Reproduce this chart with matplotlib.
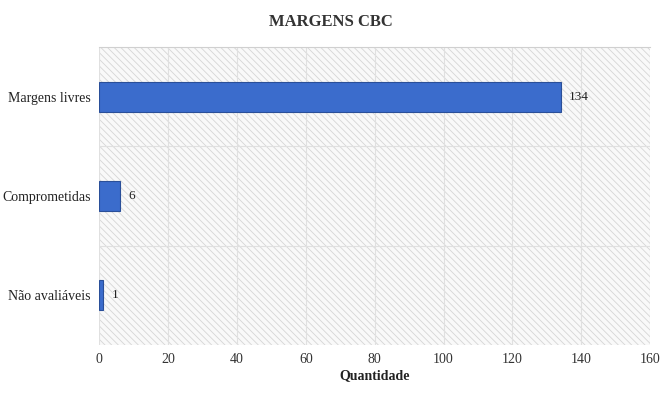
import matplotlib.pyplot as plt
from matplotlib.patches import Rectangle
from matplotlib.ticker import MultipleLocator

plt.rcParams['font.family'] = ['Liberation Serif', 'DejaVu Serif']
plt.rcParams['hatch.linewidth'] = 0.6

categorias = ['Margens livres', 'Comprometidas', 'Não avaliáveis']
quantidades = [134, 6, 1]

fig = plt.figure(figsize=(6.62, 3.95), dpi=100)
ax = fig.add_axes([0.150, 0.127, 0.832, 0.754])

# fundo hachurado
ax.add_patch(Rectangle((0, 0), 1, 1, transform=ax.transAxes, facecolor='#f9f9f9',
                       hatch='\\\\\\\\\\', edgecolor='#d6d6d6', linewidth=0, zorder=0))

y = range(len(categorias))
ax.barh(y, quantidades, height=0.3, color='#3b6ccc', edgecolor='#2a4f99',
        linewidth=0.8, zorder=3)
for yi, v in zip(y, quantidades):
    ax.text(v + 2.5, yi, str(v), va='center', ha='left', fontsize=9.5, color='#222222')

ax.set_xlim(0, 160)
ax.set_ylim(2.5, -0.5)
ax.xaxis.set_major_locator(MultipleLocator(20))
ax.set_yticks(list(y))
ax.set_yticklabels(categorias, fontsize=10, color='#222222')
ax.set_yticks([0.5, 1.5], minor=True)
ax.tick_params(axis='both', length=0, which='both', pad=6)
ax.tick_params(axis='x', labelsize=10, colors='#333333')
ax.grid(axis='x', color='#e0e0e0', linewidth=0.8, zorder=1)
ax.grid(axis='y', which='minor', color='#e0e0e0', linewidth=0.8, zorder=1)
for s in ax.spines.values():
    s.set_visible(False)
ax.spines['top'].set_visible(True)
ax.spines['top'].set_color('#d0d0d0')

ax.set_xlabel('Quantidade', fontsize=10, fontweight='bold', color='#222222', labelpad=2)
fig.suptitle('MARGENS CBC', fontsize=12, fontweight='bold', color='#333333', y=0.965)

fig.savefig('out.png', dpi=100)
